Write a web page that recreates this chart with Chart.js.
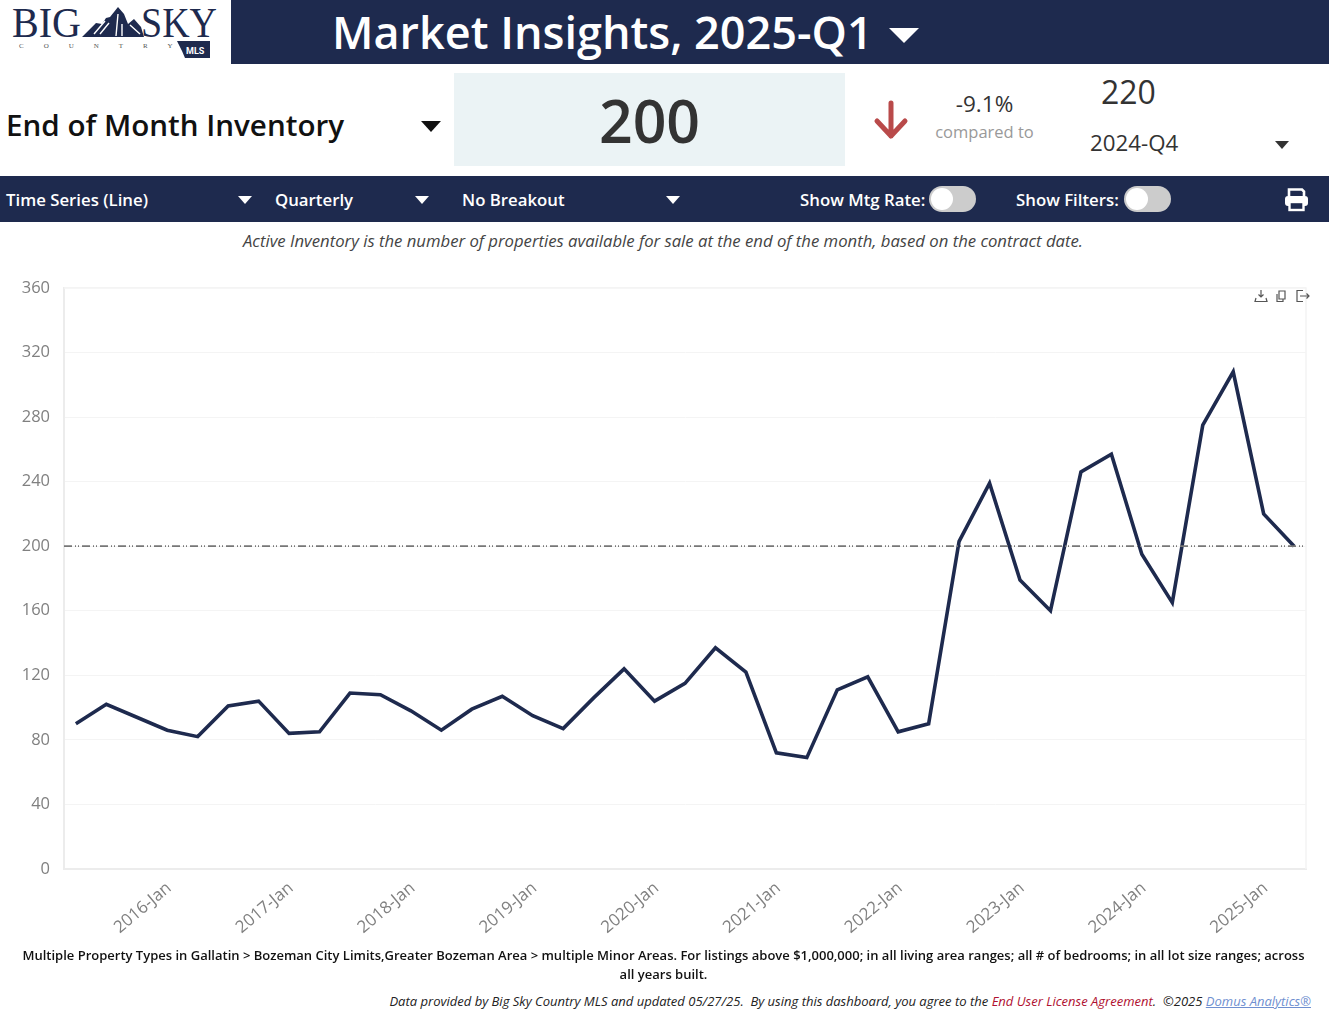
<!DOCTYPE html>
<html>
<head>
<meta charset="utf-8">
<title>Market Insights</title>
<script src="https://cdn.jsdelivr.net/npm/chart.js@4/dist/chart.umd.min.js"></script>
<style>
    html, body { margin: 0; padding: 0; background: #fff; }
    body { width: 1329px; height: 1022px; position: relative; overflow: hidden; font-family: "Open Sans", sans-serif; }
    .abs { position: absolute; white-space: nowrap; }
    .navy { background: #1e2a4e; }
    .tri { position: absolute; width: 0; height: 0; border-left: 7px solid transparent; border-right: 7px solid transparent; border-top: 8px solid #fff; }
    .bar-text { color: #fff; font-size: 16.8px; font-weight: 600; top: 189px; line-height: 22px; }
    .toggle { position: absolute; top: 186px; width: 47px; height: 26px; border-radius: 13px; background: #ccc; }
    .toggle i { position: absolute; left: 2px; top: 2px; width: 22px; height: 22px; border-radius: 11px; background: #fff; }
    canvas { position: absolute; left: 0; top: 264px; }
</style>
</head>
<body>
<!-- logo -->
<svg class="abs" style="left:10px;top:4px" width="212" height="58" viewBox="0 0 212 58">
    <text x="2" y="33" font-family="Liberation Serif" font-size="42" fill="#1e2a4e" textLength="69" lengthAdjust="spacingAndGlyphs">BIG</text>
    <text x="131" y="33" font-family="Liberation Serif" font-size="42" fill="#1e2a4e" textLength="76" lengthAdjust="spacingAndGlyphs">SKY</text>
    <polygon points="72,33 86,19 92,20 96,14 100,13 108,3 114,10 118,20 124,15 131,23 134,33" fill="#1e2a4e"/>
    <path d="M84 30 L95 17 M90 30 L99 19 M106 32 L108 10 M112 32 L112 20 M120 21 L130 30" stroke="#fff" stroke-width="1.4" fill="none"/>
    <text x="9" y="44" font-family="Liberation Serif" font-size="7" fill="#555" letter-spacing="20">COUNTRY</text>
    <polygon points="167,37 200,37 200,54 175,54 172,47" fill="#1e2a4e"/>
    <text x="176" y="50" font-family="Roboto" font-size="9" font-weight="700" fill="#fff">MLS</text>
</svg>

<div class="abs navy" style="left:231px;top:0;width:1098px;height:64px"></div>
<div class="abs" style="left:332px;top:2px;color:#fff;font-size:45px;font-weight:600;line-height:60px">Market Insights, 2025-Q1</div>
<div class="tri" style="left:889px;top:28px;border-left-width:15px;border-right-width:15px;border-top-width:15px"></div>

<div class="abs" style="left:6px;top:104px;color:#111;font-size:29.6px;font-weight:600;line-height:42px">End of Month Inventory</div>
<div class="tri" style="left:421px;top:121px;border-left-width:10px;border-right-width:10px;border-top-width:11px;border-top-color:#111"></div>

<div class="abs" style="left:454px;top:73px;width:391px;height:93px;background:#ebf3f5"></div>
<div class="abs" style="left:454px;top:82px;width:391px;text-align:center;color:#333;font-size:59px;font-weight:600;line-height:76px">200</div>

<svg class="abs" style="left:873px;top:100px" width="36" height="40" viewBox="0 0 36 40">
    <path d="M18 3 V36 M4 21 L18 36 L32 21" fill="none" stroke="#b94a4a" stroke-width="5" stroke-linecap="round" stroke-linejoin="round"/>
</svg>
<div class="abs" style="left:934px;top:89px;width:101px;text-align:center;color:#333;font-size:22.5px;font-weight:500;line-height:30px">-9.1%</div>
<div class="abs" style="left:934px;top:120px;width:101px;text-align:center;color:#999;font-size:16.5px;line-height:24px">compared to</div>
<div class="abs" style="left:1101px;top:70px;color:#333;font-size:32px;font-weight:500;line-height:44px">220</div>
<div class="abs" style="left:1090px;top:127px;color:#333;font-size:22.3px;line-height:32px">2024-Q4</div>
<div class="tri" style="left:1275px;top:141px;border-top-color:#333"></div>

<!-- control bar -->
<div class="abs navy" style="left:0;top:176px;width:1329px;height:46px"></div>
<div class="abs bar-text" style="left:6px">Time Series (Line)</div>
<div class="tri" style="left:238px;top:196px"></div>
<div class="abs bar-text" style="left:275px">Quarterly</div>
<div class="tri" style="left:415px;top:196px"></div>
<div class="abs bar-text" style="left:462px">No Breakout</div>
<div class="tri" style="left:666px;top:196px"></div>
<div class="abs bar-text" style="left:800px">Show Mtg Rate:</div>
<div class="toggle" style="left:929px"><i></i></div>
<div class="abs bar-text" style="left:1016px">Show Filters:</div>
<div class="toggle" style="left:1124px"><i></i></div>
<svg class="abs" style="left:1284px;top:187px" width="25" height="25" viewBox="0 0 25 25">
    <path d="M5 9 V2.5 H18 L20 4.5 V9" fill="none" stroke="#fff" stroke-width="2.6"/>
    <rect x="1" y="9" width="23" height="10" rx="3" fill="#fff"/>
    <rect x="5.5" y="15" width="14" height="8" fill="#1e2a4e" stroke="#fff" stroke-width="2.4"/>
</svg>

<div class="abs" style="left:0;top:230px;width:1326px;text-align:center;color:#444;font-size:16.7px;font-style:italic;line-height:22px">Active Inventory is the number of properties available for sale at the end of the month, based on the contract date.</div>

<canvas id="lineChart" width="1329" height="686"></canvas>

<!-- chart toolbar -->
<svg class="abs" style="left:1254px;top:289px" width="58" height="14" viewBox="0 0 58 14" fill="none" stroke="#555" stroke-width="1.2">
    <path d="M7 1 V8 M4.5 5.5 L7 8 L9.5 5.5 M2 9 L1 12.5 H13 L12 9"/>
    <path d="M25 2 H31 V10 H25 Z M23 5 V12.5 H29 V10"/>
    <path d="M49 1.5 H43 V12.5 H49 M46 7 H55 M52.5 4.5 L55 7 L52.5 9.5"/>
</svg>

<div class="abs" style="left:19px;top:946px;width:1289px;white-space:normal;text-align:center;color:#111;font-size:13px;font-weight:600;line-height:19px">Multiple Property Types in Gallatin &gt; Bozeman City Limits,Greater Bozeman Area &gt; multiple Minor Areas. For listings above $1,000,000; in all living area ranges; all # of bedrooms; in all lot size ranges; across all years built.</div>
<div class="abs" style="right:18px;top:992px;color:#222;font-size:13.03px;font-style:italic;line-height:19px;white-space:pre">Data provided by Big Sky Country MLS and updated 05/27/25.  By using this dashboard, you agree to the <span style="color:#b01030">End User License Agreement</span>.  ©2025 <span style="color:#6f8fd0;text-decoration:underline">Domus Analytics®</span></div>

<script>
const inventoryValues = [90, 102, 94, 86, 82, 101, 104, 84, 85, 109, 108, 98, 86, 99, 107, 95, 87, 106, 124, 104, 115, 137, 122, 72, 69, 111, 119, 85, 90, 203, 239, 179, 160, 246, 257, 195, 165, 275, 308, 220, 200];
const currentValue = [200, 200];
const tickLabels = ["2016-Jan", "2017-Jan", "2018-Jan", "2019-Jan", "2020-Jan", "2021-Jan", "2022-Jan", "2023-Jan", "2024-Jan", "2025-Jan"];
const tickIndexes = [3, 7, 11, 15, 19, 23, 27, 31, 35, 39];

const xMin = -0.39;
const xMax = 40.39;

const frame = {
    id: "frame",
    beforeDatasetsDraw(chart) {
        const a = chart.chartArea;
        const c = chart.ctx;
        c.save();
        c.strokeStyle = "#f4f4f4";
        c.lineWidth = 1.5;
        c.beginPath();
        c.moveTo(a.left, a.top);
        c.lineTo(a.right, a.top);
        c.lineTo(a.right, a.bottom);
        c.stroke();
        c.restore();
    },
};

const ctx = document.getElementById("lineChart").getContext("2d");
const lineChart = new Chart(ctx, {
    type: "line",
    data: {
        datasets: [
            {
                label: "Current",
                data: currentValue.map((v, i) => ({ x: i === 0 ? xMin : xMax, y: v })),
                borderColor: "#777",
                borderWidth: 1.6,
                borderDash: [8, 3, 1, 2, 1, 3],
                pointRadius: 0,
            },
            {
                label: "End of Month Inventory",
                data: inventoryValues.map((v, i) => ({ x: i, y: v })),
                borderColor: "#1e2a4e",
                borderWidth: 3.6,
                borderJoinStyle: "miter",
                tension: 0,
                pointRadius: 0,
            },
        ],
    },
    options: {
        responsive: false,
        animation: false,
        layout: { padding: { top: 11, right: 23 } },
        plugins: { legend: { display: false }, tooltip: { enabled: false } },
        scales: {
            x: {
                type: "linear",
                min: xMin,
                max: xMax,
                afterBuildTicks: (scale) => {
                    scale.ticks = tickIndexes.map((v) => ({ value: v }));
                },
                afterFit: (scale) => {
                    scale.height = 81;
                },
                grid: { display: false, drawTicks: false },
                border: { color: "#ececec", width: 2 },
                ticks: {
                    autoSkip: false,
                    minRotation: 40,
                    maxRotation: 40,
                    padding: 9,
                    labelOffset: 2,
                    color: "#808080",
                    font: { family: "Open Sans", size: 17, weight: "500" },
                    callback: (v) => tickLabels[tickIndexes.indexOf(v)],
                },
            },
            y: {
                min: 0,
                max: 360,
                afterFit: (scale) => {
                    scale.width = 64;
                },
                grid: { color: "#f4f4f4", lineWidth: 1, drawTicks: false },
                border: { color: "#ececec", width: 2 },
                ticks: {
                    stepSize: 40,
                    padding: 14,
                    color: "#808080",
                    font: { family: "Open Sans", size: 16.5, weight: "500" },
                },
            },
        },
    },
    plugins: [frame],
});
</script>
</body>
</html>
